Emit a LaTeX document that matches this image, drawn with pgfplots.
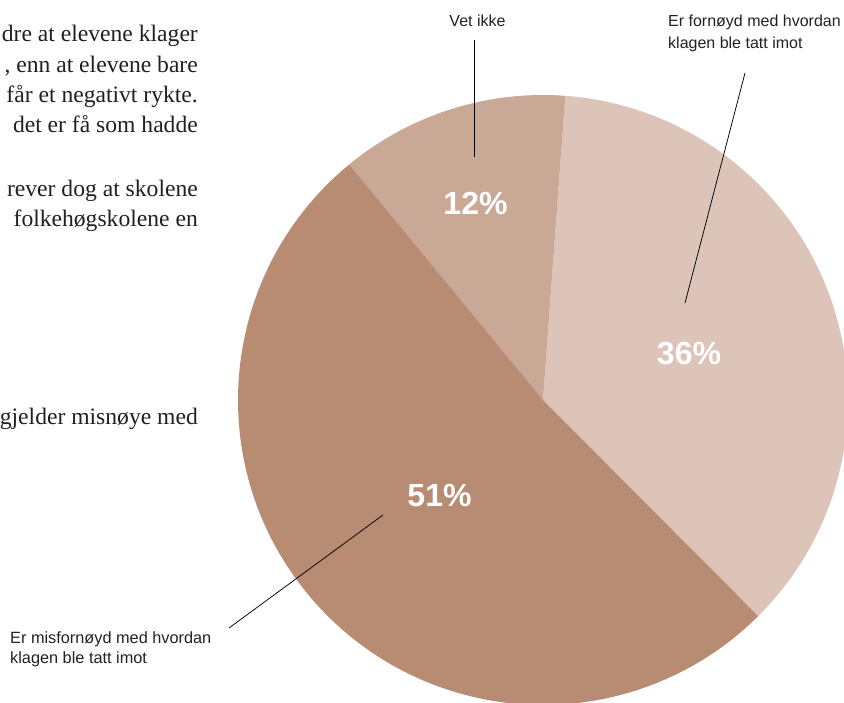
\documentclass[border=0pt]{standalone}
\usepackage{fontspec}
\setmainfont{Liberation Serif}
\newfontfamily\labelfont{Liberation Sans}
\usepackage{pgfplots}
\usepackage{pgfplotstable}
\pgfplotsset{compat=1.18}
\definecolor{c51}{HTML}{B88C73}
\definecolor{c12}{HTML}{C9A895}
\definecolor{c36}{HTML}{DCC5B8}
\definecolor{txt}{HTML}{231F20}
\definecolor{lab}{HTML}{222222}

% share of each answer (per cent)
\pgfplotstableread{
answer value
fornoyd 36
vetikke 12
misfornoyd 51
}\piedata

\begin{document}
\begin{tikzpicture}
\pgfplotstablegetelem{0}{value}\of\piedata \let\vA\pgfplotsretval
\pgfplotstablegetelem{1}{value}\of\piedata \let\vB\pgfplotsretval
\pgfplotstablegetelem{2}{value}\of\piedata \let\vC\pgfplotsretval
\pgfmathsetmacro{\tot}{\vA+\vB+\vC}
\pgfmathsetmacro{\aS}{-45.1}
\pgfmathsetmacro{\aA}{\aS+(\vA/\tot)*360}
\pgfmathsetmacro{\aB}{\aA+(\vB/\tot)*360}
\pgfmathsetmacro{\aC}{\aB+(\vC/\tot)*360}
\begin{axis}[
  at={(0,0)}, anchor=south west,
  x=1pt, y=1pt, scale only axis,
  xmin=0, xmax=844, ymin=0, ymax=702,
  hide axis, clip=false,
]
% pie slices
\fill[c36] (axis cs:543,302) -- +(\aS:305pt) arc[start angle=\aS, end angle=\aA, radius=305pt] -- cycle;
\fill[c12] (axis cs:543,302) -- +(\aA:305pt) arc[start angle=\aA, end angle=\aB, radius=305pt] -- cycle;
\fill[c51] (axis cs:543,302) -- +(\aB:305pt) arc[start angle=\aB, end angle=\aC, radius=305pt] -- cycle;

% percentages
\node[anchor=base, inner sep=0, text=white, font=\labelfont\fontsize{32}{38}\selectfont\bfseries] at (axis cs:475.5,487) {12\%};
\node[anchor=base, inner sep=0, text=white, font=\labelfont\fontsize{32}{38}\selectfont\bfseries] at (axis cs:689,337) {36\%};
\node[anchor=base, inner sep=0, text=white, font=\labelfont\fontsize{32}{38}\selectfont\bfseries] at (axis cs:439.5,195) {51\%};

% leader lines
\draw[line width=0.75pt, black] (axis cs:474,662) -- (axis cs:474,545);
\draw[line width=0.75pt, black] (axis cs:745,629) -- (axis cs:685,399);
\draw[line width=0.75pt, black] (axis cs:229,74) -- (axis cs:383,187);

% labels
\node[anchor=base, inner sep=0, text=lab, font=\labelfont\fontsize{16}{19}\selectfont] at (axis cs:477.5,675) {Vet ikke};
\node[anchor=base west, inner sep=0, text=lab, font=\labelfont\fontsize{16}{19}\selectfont] at (axis cs:668,675) {Er fornøyd med hvordan};
\node[anchor=base west, inner sep=0, text=lab, font=\labelfont\fontsize{16}{19}\selectfont] at (axis cs:668,653) {klagen ble tatt imot};
\node[anchor=base west, inner sep=0, text=lab, font=\labelfont\fontsize{16.3}{19}\selectfont] at (axis cs:10,59) {Er misfornøyd med hvordan};
\node[anchor=base west, inner sep=0, text=lab, font=\labelfont\fontsize{16.3}{19}\selectfont] at (axis cs:10,39) {klagen ble tatt imot};

% body text (cut at the left edge)
\node[anchor=base east, inner sep=0, text=txt, font=\fontsize{23.6}{28}\selectfont] at (axis cs:198,660) {dre at elevene klager};
\node[anchor=base east, inner sep=0, text=txt, font=\fontsize{23.6}{28}\selectfont] at (axis cs:198,629) {, enn at elevene bare};
\node[anchor=base east, inner sep=0, text=txt, font=\fontsize{23.6}{28}\selectfont] at (axis cs:198,599) {får et negativt rykte.};
\node[anchor=base east, inner sep=0, text=txt, font=\fontsize{23.6}{28}\selectfont] at (axis cs:198,569) {det er få som hadde};
\node[anchor=base east, inner sep=0, text=txt, font=\fontsize{23.6}{28}\selectfont] at (axis cs:198,505) {rever dog at skolene};
\node[anchor=base east, inner sep=0, text=txt, font=\fontsize{23.6}{28}\selectfont] at (axis cs:198,475) {folkehøgskolene en};
\node[anchor=base east, inner sep=0, text=txt, font=\fontsize{23.6}{28}\selectfont] at (axis cs:198,277) {gjelder misnøye med};
\end{axis}
\pgfresetboundingbox
\path (0,0) rectangle (844pt,702pt);
\end{tikzpicture}
\end{document}
